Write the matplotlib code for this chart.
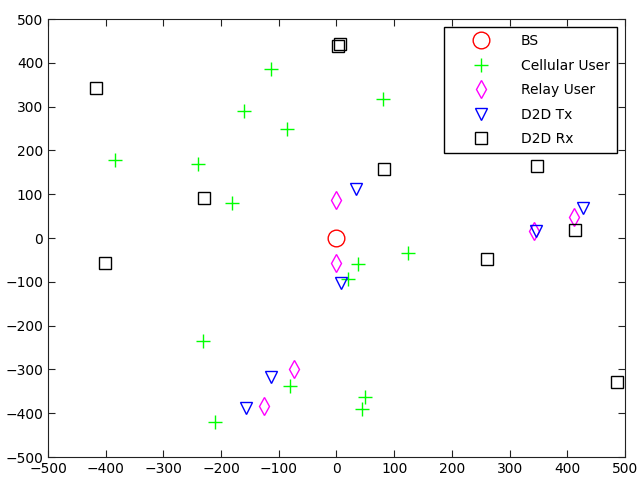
import matplotlib
matplotlib.use('Agg')
import matplotlib.pyplot as plt

plt.rcParams['font.family'] = ['DejaVu Sans']
plt.rcParams['font.size'] = 10

# base station
bs_x = [0]
bs_y = [0]

# cellular users
cell_x = [-114, -160, -85, 80, -383, -240, -181, 124, 37, 20, -231, -80, 49, 45, -211]
cell_y = [386, 290, 248, 317, 178, 170, 79, -35, -59, -94, -234, -337, -362, -390, -419]

# relay users
relay_x = [0, 0, -73, -126, 342, 412]
relay_y = [87, -56, -298, -384, 16, 49]

# D2D transmitters
tx_x = [33, 346, 428, 7, -114, -157]
tx_y = [113, 17, 68, -102, -317, -389]

# D2D receivers
rx_x = [-417, -229, -401, 3, 6, 83, 347, 414, 260, 486]
rx_y = [342, 91, -58, 438, 444, 158, 164, 18, -47, -328]

fig = plt.figure(figsize=(6.38, 4.80), dpi=100)
ax = fig.add_axes([0.0752, 0.0479, 0.9044, 0.9125])

ax.plot(bs_x, bs_y, 'o', color='#ff0000', mfc='none', ms=12, mew=1, label='BS')
ax.plot(cell_x, cell_y, '+', color='#00ff00', ms=10, mew=1, label='Cellular User')
ax.plot(relay_x, relay_y, 'd', color='#ff00ff', mfc='none', ms=9, mew=1, label='Relay User')
ax.plot(tx_x, tx_y, 'v', color='#0000ff', mfc='none', ms=9, mew=1, label='D2D Tx')
ax.plot(rx_x, rx_y, 's', color='#000000', mfc='none', ms=9, mew=1, label='D2D Rx')

ax.set_xlim(-500, 500)
ax.set_ylim(-500, 500)
ax.set_xticks(range(-500, 501, 100))
ax.set_yticks(range(-500, 501, 100))
ax.tick_params(direction='in', length=5, top=True, right=True, colors='#222222', labelcolor='black')
for s in ax.spines.values():
    s.set_color('#222222')

leg = ax.legend(loc='upper right', numpoints=1, fancybox=False, edgecolor='black',
                framealpha=1, borderaxespad=0.6, handlelength=4.3, labelspacing=0.75,
                borderpad=0.5, handletextpad=0.7)
leg.get_frame().set_linewidth(1)

fig.savefig('out.png', dpi=100)
